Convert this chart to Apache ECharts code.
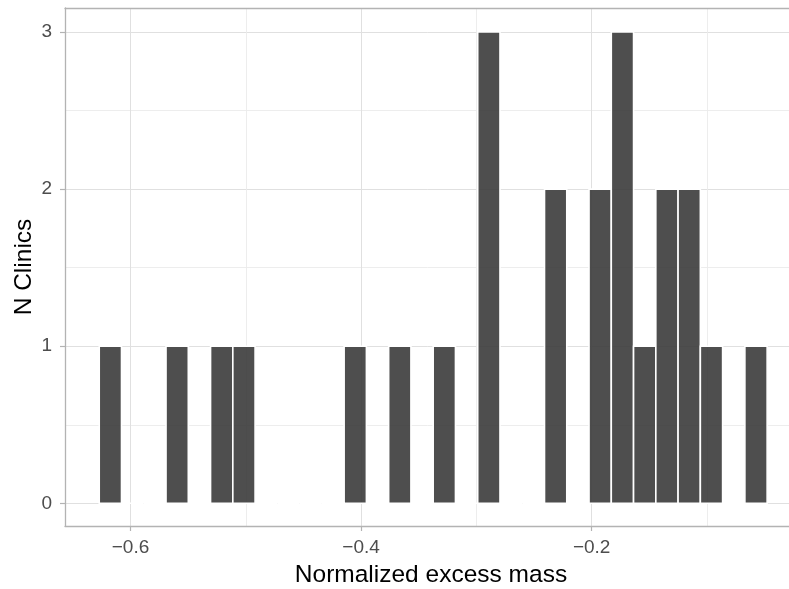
<!DOCTYPE html>
<html>
<head>
<meta charset="utf-8">
<script src="https://cdn.jsdelivr.net/npm/echarts@6/dist/echarts.min.js"></script>
<style>
  html, body { margin: 0; padding: 0; background: #fff; }
  #chart { width: 789px; height: 589px; }
</style>
</head>
<body>
<div id="chart"></div>
<script>
// histogram: 30 bins, counts
const binStart = -0.6271
const binWidth = 0.01931
const counts = [1, 0, 0, 1, 0, 1, 1, 0, 0, 0,
                0, 1, 0, 1, 0, 1, 0, 3, 0, 0,
                2, 0, 2, 3, 1, 2, 2, 1, 0, 1]
const xTicks = [-0.6, -0.4, -0.2]
const yTicks = [0, 1, 2, 3]

const xMin = -0.6568, xMax = -0.0219
const yMin = -0.1445, yMax = 3.153

const barColor = 'rgba(59,59,59,0.9)'
const gridMajor = '#e0e0e0'
const gridMinor = '#ebebeb'
const frameColor = '#b3b3b3'
const labelColor = '#4d4d4d'
const fontFamily = '"Liberation Sans", Arial, sans-serif'

const data = counts.map((c, i) => [binStart + (i + 0.5) * binWidth, c])

const minus = s => s.replace('-', '\u2212')
const isTick = (list, v) => list.some(t => Math.abs(t - v) < 1e-6)

const chart = echarts.init(document.getElementById('chart'))

// panel border drawn with axis lines (no right edge in the picture)
const frameLine = { show: true, onZero: false, lineStyle: { color: frameColor, width: 1.3 } }

// interval left to ECharts (nice values), pinned with min/maxInterval
const option = {
  animation: false,
  textStyle: { fontFamily },
  grid: {
    left: 65, right: -8, top: 8, bottom: 63,
    outerBoundsMode: 'none'
  },
  xAxis: [
    {
      // minor vertical grid lines
      type: 'value', min: xMin, max: xMax, splitNumber: 6, minInterval: 0.1, maxInterval: 0.1,
      position: 'bottom',
      axisLine: { show: false }, axisTick: { show: false }, axisLabel: { show: false },
      splitLine: { show: true, showMinLine: false, showMaxLine: false, lineStyle: { color: gridMinor, width: 0.9 } }
    },
    {
      type: 'value', min: xMin, max: xMax, splitNumber: 3, minInterval: 0.2, maxInterval: 0.2,
      position: 'bottom',
      axisLine: frameLine,
      axisTick: { show: true, length: 5, lineStyle: { color: frameColor, width: 1.2 } },
      axisLabel: {
        color: labelColor, fontSize: 19, margin: 12,
        showMinLabel: false, showMaxLabel: false,
        formatter: v => isTick(xTicks, v) ? minus(v.toFixed(1)) : ''
      },
      splitLine: { show: true, showMinLine: false, showMaxLine: false, lineStyle: { color: gridMajor, width: 1 } },
      name: 'Normalized excess mass', nameLocation: 'middle', nameGap: 37, nameMoveOverlap: false,
      nameTextStyle: { color: '#000', fontSize: 24.5 }
    },
    {
      // top panel border
      type: 'value', min: xMin, max: xMax, position: 'top',
      axisLine: frameLine, axisTick: { show: false }, axisLabel: { show: false }, splitLine: { show: false }
    }
  ],
  yAxis: [
    {
      type: 'value', min: yMin, max: yMax, splitNumber: 7, minInterval: 0.5, maxInterval: 0.5,
      position: 'left',
      axisLine: { show: false }, axisTick: { show: false }, axisLabel: { show: false },
      splitLine: { show: true, showMinLine: false, showMaxLine: false, lineStyle: { color: gridMinor, width: 0.9 } }
    },
    {
      type: 'value', min: yMin, max: yMax, splitNumber: 3, minInterval: 1, maxInterval: 1,
      position: 'left', offset: 0,
      axisLine: frameLine,
      axisTick: { show: true, length: 5, lineStyle: { color: frameColor, width: 1.2 } },
      axisLabel: {
        color: labelColor, fontSize: 19, margin: 13,
        showMinLabel: false, showMaxLabel: false,
        formatter: v => isTick(yTicks, v) ? String(Math.round(v)) : ''
      },
      splitLine: { show: true, showMinLine: false, showMaxLine: false, lineStyle: { color: gridMajor, width: 1 } },
      name: 'N Clinics', nameLocation: 'middle', nameGap: 28, nameRotate: 90, nameMoveOverlap: false,
      nameTextStyle: { color: '#000', fontSize: 24.5 }
    }
  ],
  series: [
    {
      type: 'custom',
      xAxisIndex: 0,
      yAxisIndex: 0,
      data,
      renderItem: (params, api) => {
        const x = api.value(0)
        const y = api.value(1)
        const p0 = api.coord([x - binWidth / 2, y])
        const p1 = api.coord([x + binWidth / 2, 0])
        return {
          type: 'rect',
          shape: { x: p0[0], y: p0[1], width: p1[0] - p0[0], height: p1[1] - p0[1] },
          style: { fill: barColor, stroke: '#fff', lineWidth: 1.6 }
        }
      }
    }
  ]
}

chart.setOption(option)
</script>
</body>
</html>
